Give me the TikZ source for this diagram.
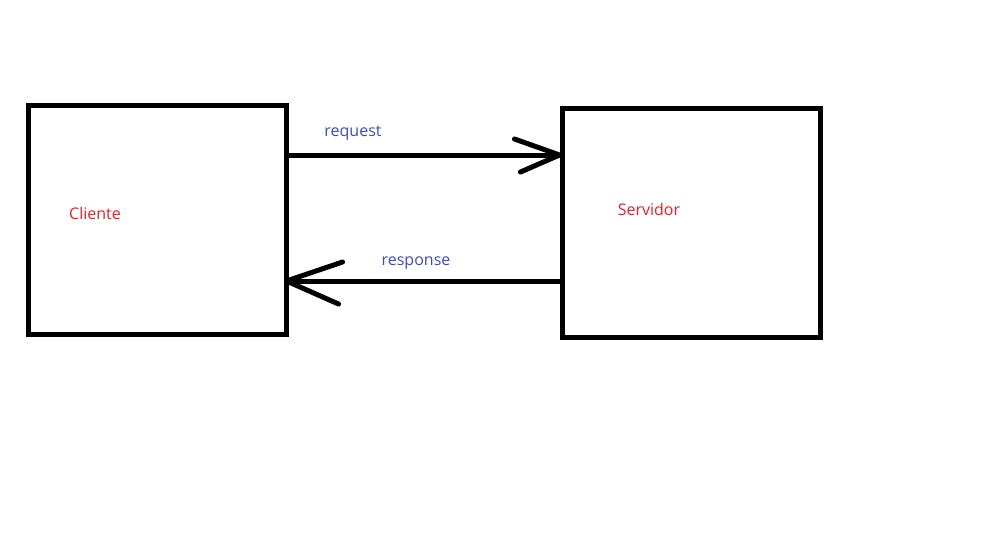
\documentclass[tikz,border=0pt]{standalone}
\usepackage{fontspec}
\setmainfont{Open Sans}
\definecolor{pblue}{RGB}{63,72,204}
\definecolor{pred}{RGB}{237,28,36}
\begin{document}
\begin{tikzpicture}[x=1pt,y=-1pt,
  box/.style={draw=black,line width=5pt,minimum width=258pt,minimum height=229pt,inner sep=0pt},
  conn/.style={draw=black,line width=5pt},
  lbl/.style={font=\fontsize{16}{18}\selectfont,inner sep=0pt}]
\useasboundingbox (0,0) rectangle (981,533);
\node[box] (cli) at (157,219.5) {};
\node[box] (srv) at (691,222.5) {};
\node[lbl,text=pred] (clit) at (95,213) {Cliente};
\node[lbl,text=pred] (srvt) at (649,209) {Servidor};
\node[lbl,text=pblue] (req) at (353,133.5) {request};
\node[lbl,text=pblue] (res) at (416,263.5) {response};
% request
\coordinate (rqs) at (cli.east |- 0,155);
\coordinate (rqe) at (srv.west |- 0,155);
\draw[conn] (rqs) -- (rqe);
\draw[conn,line cap=round,line join=round] ([shift={(-45,-16)}]rqe) -- (rqe) -- ([shift={(-39,17)}]rqe);
% response
\coordinate (rss) at (srv.west |- 0,281);
\coordinate (rse) at ([xshift=-2pt]cli.east |- 0,281);
\draw[conn] (rss) -- (rse);
\draw[conn,line cap=round,line join=round] ([shift={(56,-19)}]rse) -- (rse) -- ([shift={(52,23)}]rse);
\end{tikzpicture}
\end{document}
